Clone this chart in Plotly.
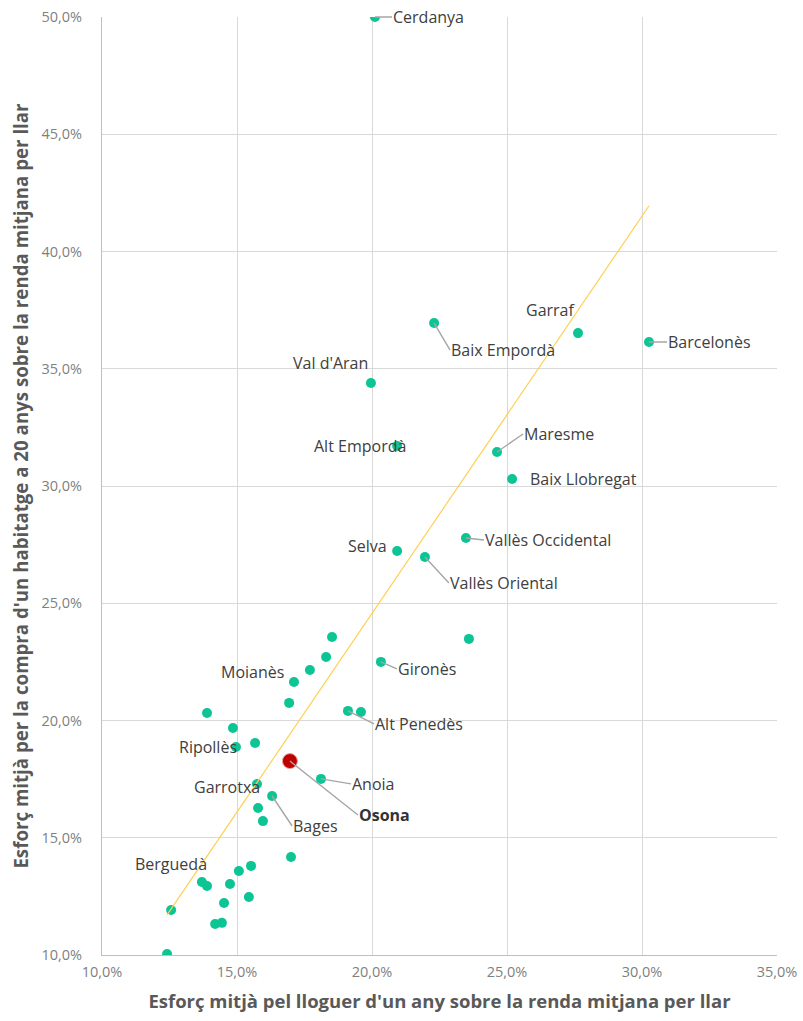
import numpy as np
import plotly.graph_objects as go

# Comarques (only the labelled ones carry a name)
comarques = [
    "Cerdanya", "Garraf", "Barcelonès", "Baix Empordà", "Val d'Aran",
    "Alt Empordà", "Maresme", "Baix Llobregat", "Vallès Occidental", "Selva",
    "Vallès Oriental", "", "", "Gironès", "", "", "Moianès", "", "Alt Penedès", "",
    "", "", "Ripollès", "", "Osona", "Anoia", "Garrotxa", "Bages", "", "",
    "", "", "", "Berguedà", "", "", "", "", "", "",
    "", "",
]
# % esforç lloguer (x) i compra (y)
lloguer = [
    20.11, 27.63, 30.26, 22.30, 19.96, 20.93, 24.63, 25.19, 23.48, 20.93,
    21.96, 23.59, 18.52, 20.33, 18.30, 17.70, 17.11, 16.93, 19.11, 19.59,
    13.89, 14.85, 14.96, 15.67, 16.96, 18.11, 15.74, 16.30, 15.78, 15.96,
    17.00, 15.52, 15.07, 13.70, 13.89, 14.74, 12.56, 14.52, 15.44, 14.19,
    14.44, 12.41,
]
compra = [
    50.00, 36.52, 36.14, 36.95, 34.39, 31.71, 31.45, 30.30, 27.78, 27.23,
    26.97, 23.48, 23.56, 22.50, 22.71, 22.15, 21.64, 20.75, 20.41, 20.36,
    20.32, 19.68, 18.87, 19.04, 18.27, 17.51, 17.29, 16.78, 16.27, 15.71,
    14.18, 13.80, 13.58, 13.11, 12.94, 13.03, 11.92, 12.22, 12.47, 11.32,
    11.37, 10.04,
]
x_ticks = [0.10, 0.15, 0.20, 0.25, 0.30, 0.35]
y_ticks = [0.10, 0.15, 0.20, 0.25, 0.30, 0.35, 0.40, 0.45, 0.50]
destacada = "Osona"

# label placement: (ax, ay, xanchor, leader line)
label_pos = {
    "Cerdanya": (17, 0, "left", True),
    "Garraf": (-28, -23, "center", False),
    "Barcelonès": (18, 0, "left", True),
    "Baix Empordà": (16, 27, "left", True),
    "Val d'Aran": (-40, -20, "center", False),
    "Alt Empordà": (10, 0, "right", False),
    "Maresme": (26, -18, "left", True),
    "Baix Llobregat": (17, 0, "left", False),
    "Vallès Occidental": (18, 2, "left", True),
    "Selva": (-9, -5, "right", False),
    "Vallès Oriental": (24, 26, "left", True),
    "Gironès": (16, 7, "left", True),
    "Moianès": (-9, -10, "right", False),
    "Alt Penedès": (26, 13, "left", True),
    "Ripollès": (2, 0, "right", False),
    "Osona": (68, 54, "left", True),
    "Anoia": (30, 5, "left", True),
    "Garrotxa": (4, 3, "right", False),
    "Bages": (20, 30, "left", True),
    "Berguedà": (6, -18, "right", False),
}

x = np.array(lloguer) / 100
y = np.array(compra) / 100
names = np.array(comarques)
is_hl = names == destacada

TEAL = "#0DC594"
RED = "#C00000"
GREY_TXT = "#404040"

slope, intercept = np.polyfit(x, y, 1)
trend_x = np.array([x.min(), x.max()])

fig = go.Figure()
fig.add_trace(
    go.Scatter(
        x=x[~is_hl], y=y[~is_hl], mode="markers",
        marker=dict(color=TEAL, size=10),
        text=names[~is_hl], hoverinfo="text+x+y",
    )
)
fig.add_trace(
    go.Scatter(
        x=trend_x, y=slope * trend_x + intercept, mode="lines",
        line=dict(color="#FFD054", width=1.2), hoverinfo="skip",
    )
)
fig.add_trace(
    go.Scatter(
        x=x[is_hl], y=y[is_hl], mode="markers",
        marker=dict(color=RED, size=15, line=dict(color="#E8A0A0", width=1)),
        text=names[is_hl], hoverinfo="text+x+y",
    )
)

for name, (ax, ay, anchor, leader) in label_pos.items():
    i = comarques.index(name)
    txt = f"<b>{name}</b>" if name == destacada else name
    fig.add_annotation(
        x=x[i], y=y[i], text=txt, showarrow=True,
        ax=ax, ay=ay, xanchor=anchor, yanchor="middle",
        arrowhead=0, arrowwidth=1.4, standoff=0,
        arrowcolor="#A6A6A6" if leader else "rgba(0,0,0,0)",
        font=dict(family="Open Sans", size=16,
                  color="#333333" if name == destacada else GREY_TXT),
        borderpad=0,
    )

axis_common = dict(
    showgrid=True, gridcolor="#D9D9D9", gridwidth=1,
    showline=True, linecolor="#BFBFBF", linewidth=1,
    zeroline=False, ticks="", tickformat=".1%", automargin=False,
    tickfont=dict(family="Open Sans", size=14.5, color="#7F7F7F"),
)
fig.update_xaxes(
    range=[0.10, 0.35], tickvals=x_ticks, **axis_common,
    title=dict(text="<b>Esforç mitjà pel lloguer d'un any sobre la renda mitjana per llar</b>",
               font=dict(family="Open Sans", size=18.5, color="#595959"), standoff=14),
    ticklabelstandoff=4,
)
fig.update_yaxes(
    range=[0.10, 0.50], tickvals=y_ticks, **axis_common,
    title=dict(text="<b>Esforç mitjà per la compra d'un habitatge a 20 anys sobre la renda mitjana per llar</b>",
               font=dict(family="Open Sans", size=18.7, color="#595959"), standoff=7),
    ticklabelstandoff=16,
)
fig.update_layout(
    width=803, height=1021,
    margin=dict(l=102, r=26, t=17, b=66),
    plot_bgcolor="white", paper_bgcolor="white",
    separators=",.", showlegend=False,
    font=dict(family="Open Sans", color=GREY_TXT),
)
# drop the default 8px body margin so the figure fills the window exactly
fig.write_html(
    "out.html",
    config={"displayModeBar": False},
    post_script="document.body.style.margin='0';",
)
